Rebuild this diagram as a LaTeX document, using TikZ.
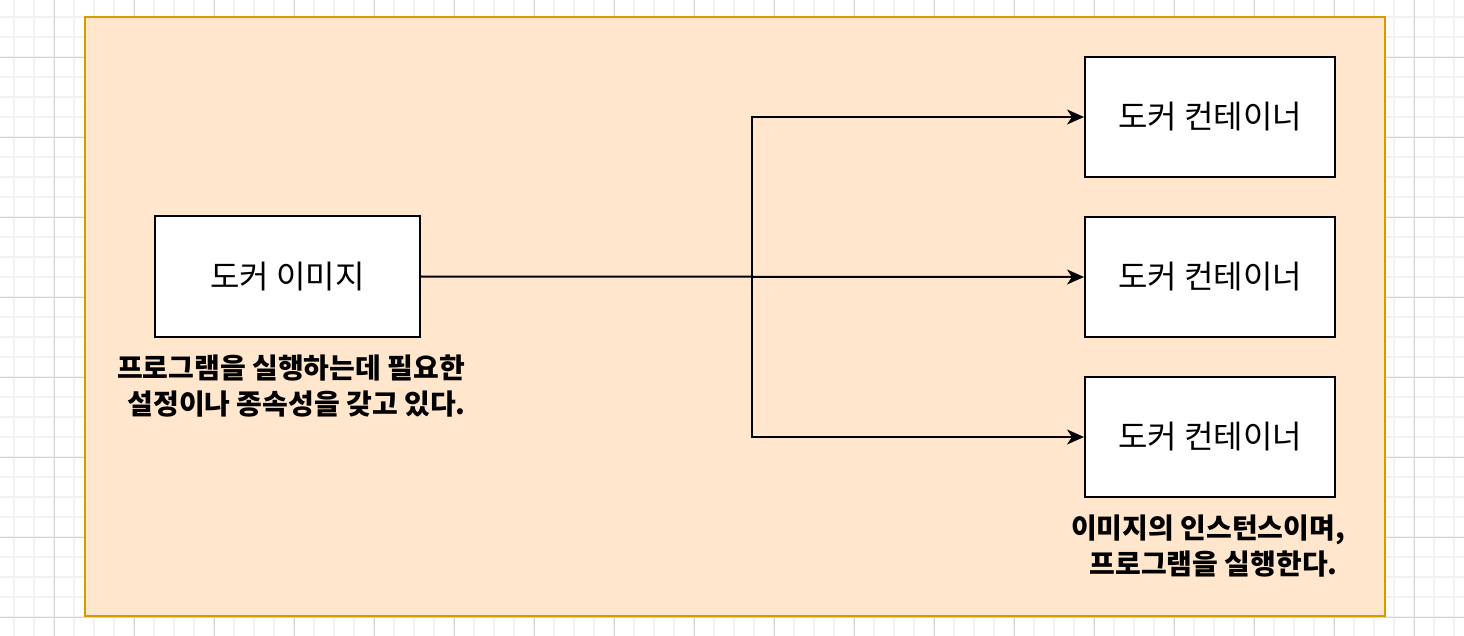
\documentclass[tikz,border=0pt]{standalone}
\usepackage{fontspec}
\newfontfamily\kr{Noto Sans CJK KR}
\usetikzlibrary{arrows.meta}
\definecolor{gridminor}{HTML}{F2F2F2}
\definecolor{gridmajor}{HTML}{D4D4D4}
\definecolor{contfill}{HTML}{FFE6CC}
\definecolor{contdraw}{HTML}{D79B00}
\tikzset{
  box/.style={draw=black, line width=2pt, fill=white, minimum width=265pt, minimum height=120pt, inner sep=0pt, font=\kr\fontsize{32}{38}\selectfont},
  cbox/.style={box, minimum width=250pt},
  caption/.style={align=center, inner sep=0pt, font=\kr\bfseries\fontsize{28}{36}\selectfont},
  conn/.style={line width=2pt, -{Stealth[length=17pt,width=15pt,inset=5pt]}},
}
\begin{document}
\begin{tikzpicture}[x=1pt,y=-1pt]
\useasboundingbox (0,0) rectangle (1464,636);
\fill[white] (0,0) rectangle (1464,636);
\foreach \i in {0,...,73} \draw[gridminor, line width=1.5pt] ({14+20*\i},0) -- ({14+20*\i},636);
\foreach \j in {0,...,31} \draw[gridminor, line width=1.5pt] (0,{17+20*\j}) -- (1464,{17+20*\j});
\foreach \i in {0,...,18} \draw[gridmajor, line width=0.8pt] ({54+80*\i},0) -- ({54+80*\i},636);
\foreach \j in {-1,...,7} \draw[gridmajor, line width=0.8pt] (0,{57+80*\j}) -- (1464,{57+80*\j});
\draw[contdraw, fill=contfill, line width=2pt] (85,17) rectangle (1385,616);
\node[box] (img) at (287.5,276.5) {도커 이미지};
\node[cbox] (c1) at (1210,117) {도커 컨테이너};
\node[cbox] (c2) at (1210,277) {도커 컨테이너};
\node[cbox] (c3) at (1210,437) {도커 컨테이너};
\node[caption] (cap1) at (291,386) {프로그램을 실행하는데 필요한\\\hspace*{0.4em}설정이나 종속성을 갖고 있다.};
\node[caption] (cap2) at (1208,546) {이미지의 인스턴스이며,\\\hspace*{0.4em}프로그램을 실행한다.};
\coordinate (br) at (752,277);
\draw[conn] (img.east) -- (c2.west);
\draw[conn] (br) |- (c1.west);
\draw[conn] (br) |- (c3.west);
\end{tikzpicture}
\end{document}
